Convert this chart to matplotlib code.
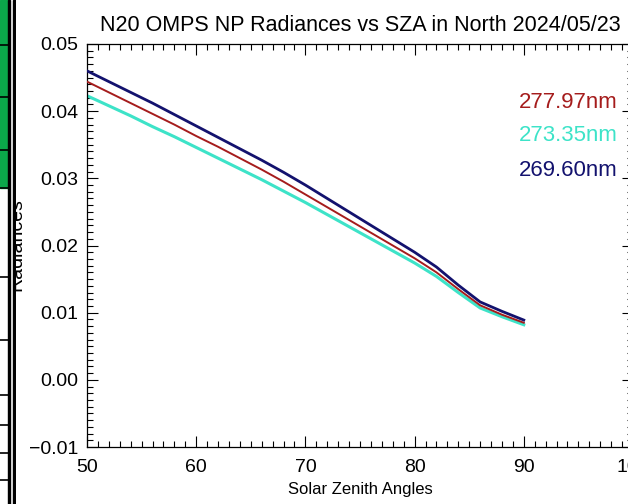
import numpy as np
import matplotlib
matplotlib.use("Agg")
import matplotlib.pyplot as plt
from matplotlib.patches import Rectangle

# solar zenith angle bins (deg)
sza = [50, 52, 54, 56, 58, 60, 62, 64, 66, 68, 70,
       72, 74, 76, 78, 80, 82, 84, 86, 88, 90]

# radiances per channel
rad_277 = [0.0444, 0.0428, 0.0412, 0.0396, 0.0380, 0.0363, 0.0347, 0.0330, 0.0313, 0.0295, 0.0276,
           0.0257, 0.0238, 0.0219, 0.0200, 0.0181, 0.0160, 0.0135, 0.0111, 0.0097, 0.0085]
rad_273 = [0.0423, 0.0408, 0.0393, 0.0377, 0.0362, 0.0346, 0.0330, 0.0314, 0.0298, 0.0281, 0.0264,
           0.0246, 0.0228, 0.0210, 0.0192, 0.0174, 0.0154, 0.0130, 0.0107, 0.0094, 0.0082]
rad_269 = [0.0460, 0.0444, 0.0428, 0.0412, 0.0395, 0.0378, 0.0361, 0.0344, 0.0327, 0.0309, 0.0290,
           0.0270, 0.0250, 0.0230, 0.0210, 0.0190, 0.0168, 0.0141, 0.0116, 0.0102, 0.0089]

labels = ["277.97nm", "273.35nm", "269.60nm"]
colors = ["#A51C1C", "#3DE3C8", "#13126E"]

FONT = "Liberation Sans"
plt.rcParams["font.family"] = [FONT, "DejaVu Sans"]

fig = plt.figure(figsize=(6.28, 5.04), dpi=100)
ax = fig.add_axes([87 / 628, 1 - 447 / 504, 546 / 628, 403 / 504])

# draw cyan first, navy on top
ax.plot(sza, rad_273, color=colors[1], lw=2.2, zorder=2)
ax.plot(sza, rad_277, color=colors[0], lw=1.4, zorder=3)
ax.plot(sza, rad_269, color=colors[2], lw=2.0, zorder=4)

ax.set_xlim(50, 100)
ax.set_ylim(-0.01, 0.05)
ax.set_xticks(np.arange(50, 101, 10))
ax.set_xticks(np.arange(50, 101, 1), minor=True)
ax.set_yticks(np.arange(-0.01, 0.0501, 0.01))
ax.set_yticks(np.arange(-0.01, 0.0501, 0.001), minor=True)
ax.set_yticklabels([f"{v:.2f}".replace("-", "\u2212") for v in np.arange(-0.01, 0.0501, 0.01)])

ax.tick_params(which="both", direction="in", top=True, right=True, width=0.8, colors="black")
ax.tick_params(which="major", length=8, labelsize=14)
ax.tick_params(axis="x", which="major", pad=9)
ax.tick_params(axis="y", which="major", pad=6)
ax.tick_params(which="minor", length=4)
for sp in ax.spines.values():
    sp.set_linewidth(0.9)

ax.set_title("N20 OMPS NP Radiances vs SZA in North 2024/05/23", fontsize=15.5, pad=9)
ax.set_xlabel("Solar Zenith Angles", fontsize=12, labelpad=4)

for i, (lbl, c) in enumerate(zip(labels, colors)):
    ax.text(0.9725, [0.856, 0.774, 0.687][i], lbl, color=c, fontsize=16,
            ha="right", va="center", transform=ax.transAxes)

# y label, mostly hidden under the neighbouring table in the screenshot
fig.text(25 / 628, 1 - 245 / 504, "Radiances", rotation=90, fontsize=14,
         ha="right", va="center")

# left-hand strip from the screenshot (table cells)
strip = fig.add_axes([0, 0, 16 / 628, 1], zorder=10)
strip.set_xlim(0, 16)
strip.set_ylim(504, 0)
strip.axis("off")
strip.add_patch(Rectangle((0, 0), 16, 504, color="white"))
strip.add_patch(Rectangle((0, 0), 8, 188, color="#0BA84A"))
for yy in [45, 97, 150, 188, 277, 340, 395, 425, 453, 480]:
    strip.plot([0, 8], [yy, yy], color="black", lw=1.2)
strip.add_patch(Rectangle((8, 0), 2, 504, color="black"))
strip.add_patch(Rectangle((13, 0), 2.5, 504, color="black"))

fig.savefig("out.png", dpi=100)
